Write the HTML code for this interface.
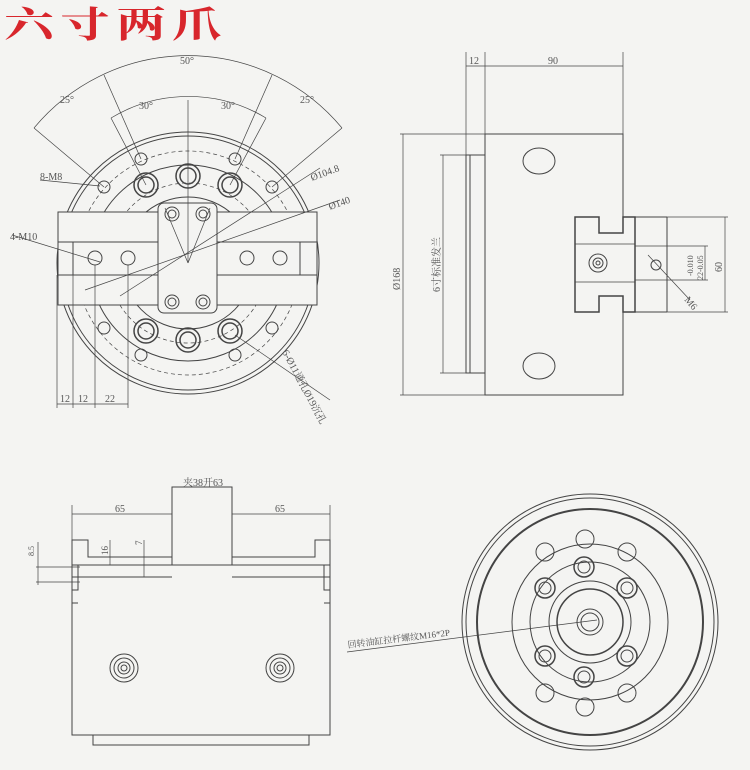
<!DOCTYPE html>
<html><head><meta charset="utf-8"><style>
html,body{margin:0;padding:0;background:#f4f4f2;}
svg{display:block;}
text{font-family:"Liberation Serif","Noto Serif CJK SC",serif;fill:#555;}
</style></head><body>
<svg width="750" height="770" viewBox="0 0 750 770" xmlns="http://www.w3.org/2000/svg">
<rect width="750" height="770" fill="#f4f4f2"/>
<text x="0" y="0" font-size="50" font-family="'Noto Sans CJK SC',sans-serif" font-weight="bold" style="fill:#d8262c" transform="translate(4,37) scale(1,0.72)" letter-spacing="6">六寸两爪</text>

<g fill="none" stroke="#444" stroke-width="1">
<circle cx="188" cy="263" r="131"/>
<circle cx="188" cy="263" r="127"/>
<circle cx="188" cy="263" r="112" stroke-dasharray="4,3" stroke-width="0.7"/>
<circle cx="188" cy="263" r="98"/>
<circle cx="188" cy="263" r="80" stroke-dasharray="4,3" stroke-width="0.7"/>
<circle cx="188" cy="263" r="66"/>
<rect x="58" y="212" width="259" height="93" fill="#f4f4f2"/>
<rect x="58" y="242" width="100" height="33" fill="#f4f4f2"/>
<rect x="217" y="242" width="100" height="33" fill="#f4f4f2"/>
<line x1="73" y1="242" x2="73" y2="275"/>
<line x1="300" y1="242" x2="300" y2="275"/>
<rect x="158" y="203" width="59" height="110" rx="6" fill="#f4f4f2"/>
<circle cx="172" cy="214" r="7"/><circle cx="172" cy="214" r="4"/>
<circle cx="203" cy="214" r="7"/><circle cx="203" cy="214" r="4"/>
<circle cx="172" cy="302" r="7"/><circle cx="172" cy="302" r="4"/>
<circle cx="203" cy="302" r="7"/><circle cx="203" cy="302" r="4"/>
<circle cx="95" cy="258" r="7"/><circle cx="128" cy="258" r="7"/>
<circle cx="247" cy="258" r="7"/><circle cx="280" cy="258" r="7"/>
<g stroke-width="1.5">
<circle cx="146" cy="185" r="12"/><circle cx="146" cy="185" r="8"/>
<circle cx="188" cy="176" r="12"/><circle cx="188" cy="176" r="8"/>
<circle cx="230" cy="185" r="12"/><circle cx="230" cy="185" r="8"/>
<circle cx="146" cy="331" r="12"/><circle cx="146" cy="331" r="8"/>
<circle cx="188" cy="340" r="12"/><circle cx="188" cy="340" r="8"/>
<circle cx="230" cy="331" r="12"/><circle cx="230" cy="331" r="8"/>
</g>
<circle cx="141" cy="159" r="6"/><circle cx="235" cy="159" r="6"/>
<circle cx="104" cy="187" r="6"/><circle cx="272" cy="187" r="6"/>
<circle cx="104" cy="328" r="6"/><circle cx="272" cy="328" r="6"/>
<circle cx="141" cy="355" r="6"/><circle cx="235" cy="355" r="6"/>
<g stroke-width="0.7">
<path d="M34,128 A200,200 0 0 1 342,128"/>
<line x1="34" y1="128" x2="104" y2="187"/><line x1="342" y1="128" x2="272" y2="187"/>
<line x1="104" y1="75" x2="141" y2="159"/><line x1="272" y1="75" x2="235" y2="159"/>
<path d="M111,118 A150,150 0 0 1 266,118"/>
<line x1="111" y1="118" x2="146" y2="185"/><line x1="266" y1="118" x2="230" y2="185"/>
<line x1="188" y1="100" x2="188" y2="263"/>
<line x1="40" y1="180" x2="100" y2="186"/>
<line x1="12" y1="235" x2="100" y2="262"/>
<line x1="85" y1="290" x2="340" y2="200"/>
<line x1="120" y1="296" x2="320" y2="168"/>
<line x1="235" y1="335" x2="330" y2="400"/>
<line x1="57" y1="275" x2="57" y2="408"/><line x1="73" y1="275" x2="73" y2="408"/>
<line x1="95" y1="265" x2="95" y2="408"/><line x1="128" y1="265" x2="128" y2="408"/>
<line x1="57" y1="404" x2="128" y2="404"/>
<line x1="188" y1="263" x2="165" y2="208"/><line x1="188" y1="263" x2="210" y2="208"/>
</g>

<rect x="485" y="134" width="138" height="261"/>
<rect x="466" y="155" width="19" height="218"/>
<line x1="470" y1="155" x2="470" y2="373"/>
<ellipse cx="539" cy="161" rx="16" ry="13"/>
<ellipse cx="539" cy="366" rx="16" ry="13"/>
<path d="M575,217 H599 V233 H623 V217 H635 V312 H623 V296 H599 V312 H575 Z" fill="#f4f4f2" stroke-width="1.5"/>
<path d="M575,244 H635 V246 H667 V280 H635 V282 H575" stroke-width="0.8"/>
<line x1="635" y1="217" x2="667" y2="217"/><line x1="667" y1="217" x2="667" y2="312"/>
<line x1="635" y1="312" x2="667" y2="312"/>
<circle cx="598" cy="263" r="9"/><circle cx="598" cy="263" r="5"/><circle cx="598" cy="263" r="2"/>
<circle cx="656" cy="265" r="5"/>
<g stroke-width="0.7">
<line x1="466" y1="52" x2="466" y2="155"/><line x1="485" y1="52" x2="485" y2="134"/><line x1="623" y1="52" x2="623" y2="134"/>
<line x1="466" y1="66" x2="623" y2="66"/>
<line x1="400" y1="134" x2="485" y2="134"/><line x1="400" y1="395" x2="485" y2="395"/>
<line x1="403" y1="134" x2="403" y2="395"/>
<line x1="440" y1="155" x2="470" y2="155"/><line x1="440" y1="373" x2="470" y2="373"/>
<line x1="443" y1="155" x2="443" y2="373"/>
<line x1="667" y1="246" x2="708" y2="246"/><line x1="667" y1="280" x2="708" y2="280"/>
<line x1="705" y1="246" x2="705" y2="280"/>
<line x1="725" y1="217" x2="725" y2="312"/>
<line x1="667" y1="217" x2="728" y2="217"/><line x1="667" y1="312" x2="728" y2="312"/>
<line x1="648" y1="255" x2="690" y2="300"/>
</g>

<rect x="72" y="565" width="258" height="170"/>
<path d="M72,565 V540 H88 V557 H172 V565 M330,565 V540 H315 V557 H232 V565"/>
<line x1="72" y1="565" x2="330" y2="565"/>
<path d="M172,565 V487 H232 V565"/>
<line x1="72" y1="577" x2="172" y2="577"/><line x1="232" y1="577" x2="330" y2="577"/>
<path d="M78,565 V590 H72 M78,603 H72 M324,565 V590 H330 M324,603 H330"/>
<rect x="93" y="735" width="216" height="10"/>
<circle cx="124" cy="668" r="14"/><circle cx="124" cy="668" r="10"/><circle cx="124" cy="668" r="6"/><circle cx="124" cy="668" r="3"/>
<circle cx="280" cy="668" r="14"/><circle cx="280" cy="668" r="10"/><circle cx="280" cy="668" r="6"/><circle cx="280" cy="668" r="3"/>
<g stroke-width="0.7">
<line x1="72" y1="505" x2="72" y2="540"/><line x1="330" y1="505" x2="330" y2="540"/>
<line x1="72" y1="514" x2="172" y2="514"/><line x1="232" y1="514" x2="330" y2="514"/>
<line x1="172" y1="487" x2="232" y2="487"/>
<line x1="110" y1="540" x2="110" y2="565"/><line x1="144" y1="540" x2="144" y2="577"/>
<line x1="36" y1="567" x2="80" y2="567"/><line x1="36" y1="582" x2="80" y2="582"/>
<line x1="38" y1="542" x2="38" y2="585"/>
</g>

<circle cx="590" cy="622" r="128"/>
<circle cx="590" cy="622" r="124"/>
<circle cx="590" cy="622" r="113" stroke-width="2"/>
<circle cx="590" cy="622" r="78"/>
<circle cx="590" cy="622" r="60"/>
<circle cx="590" cy="622" r="41"/>
<circle cx="590" cy="622" r="33" stroke-width="1.5"/>
<circle cx="590" cy="622" r="13"/>
<circle cx="590" cy="622" r="9"/>
<g stroke-width="1.5">
<circle cx="584" cy="567" r="10"/><circle cx="545" cy="588" r="10"/><circle cx="627" cy="588" r="10"/>
<circle cx="545" cy="656" r="10"/><circle cx="627" cy="656" r="10"/><circle cx="584" cy="677" r="10"/>
</g>
<circle cx="584" cy="567" r="6"/><circle cx="545" cy="588" r="6"/><circle cx="627" cy="588" r="6"/>
<circle cx="545" cy="656" r="6"/><circle cx="627" cy="656" r="6"/><circle cx="584" cy="677" r="6"/>
<circle cx="585" cy="539" r="9"/><circle cx="545" cy="552" r="9"/><circle cx="627" cy="552" r="9"/>
<circle cx="545" cy="693" r="9"/><circle cx="627" cy="693" r="9"/><circle cx="585" cy="707" r="9"/>
<line x1="347" y1="652" x2="597" y2="620" stroke-width="0.7"/>
</g>

<g font-size="10">
<text x="180" y="64">50°</text>
<text x="60" y="103">25°</text><text x="300" y="103">25°</text>
<text x="139" y="109">30°</text><text x="221" y="109">30°</text>
<text x="40" y="180">8-M8</text>
<text x="10" y="240">4-M10</text>
<text x="60" y="402">12</text><text x="78" y="402">12</text><text x="105" y="402">22</text>
<text x="312" y="181" transform="rotate(-20 312 181)">Ø104.8</text>
<text x="330" y="210" transform="rotate(-20 330 210)">Ø140</text>
<text x="282" y="352" transform="rotate(62 282 352)">6-Ø11通孔Ø19沉孔</text>
<text x="469" y="64">12</text><text x="548" y="64">90</text>
<text x="400" y="290" transform="rotate(-90 400 290)">Ø168</text>
<text x="440" y="292" transform="rotate(-90 440 292)">6寸标准发兰</text>
<text x="722" y="272" transform="rotate(-90 722 272)">60</text>
<text x="703" y="280" transform="rotate(-90 703 280)" font-size="8">22-0.05</text>
<text x="693" y="276" transform="rotate(-90 693 276)" font-size="8">-0.010</text>
<text x="684" y="300" transform="rotate(50 684 300)">M6</text>
<text x="183" y="486">夹38开63</text>
<text x="115" y="512">65</text><text x="275" y="512">65</text>
<text x="108" y="555" transform="rotate(-90 108 555)" font-size="9">16</text>
<text x="142" y="545" transform="rotate(-90 142 545)" font-size="9">7</text>
<text x="34" y="556" transform="rotate(-90 34 556)" font-size="8">8.5</text>
<text x="348" y="648" transform="rotate(-7 348 648)" font-size="9">回转油缸拉杆螺纹M16*2P</text>
</g>
</svg>
</body></html>
